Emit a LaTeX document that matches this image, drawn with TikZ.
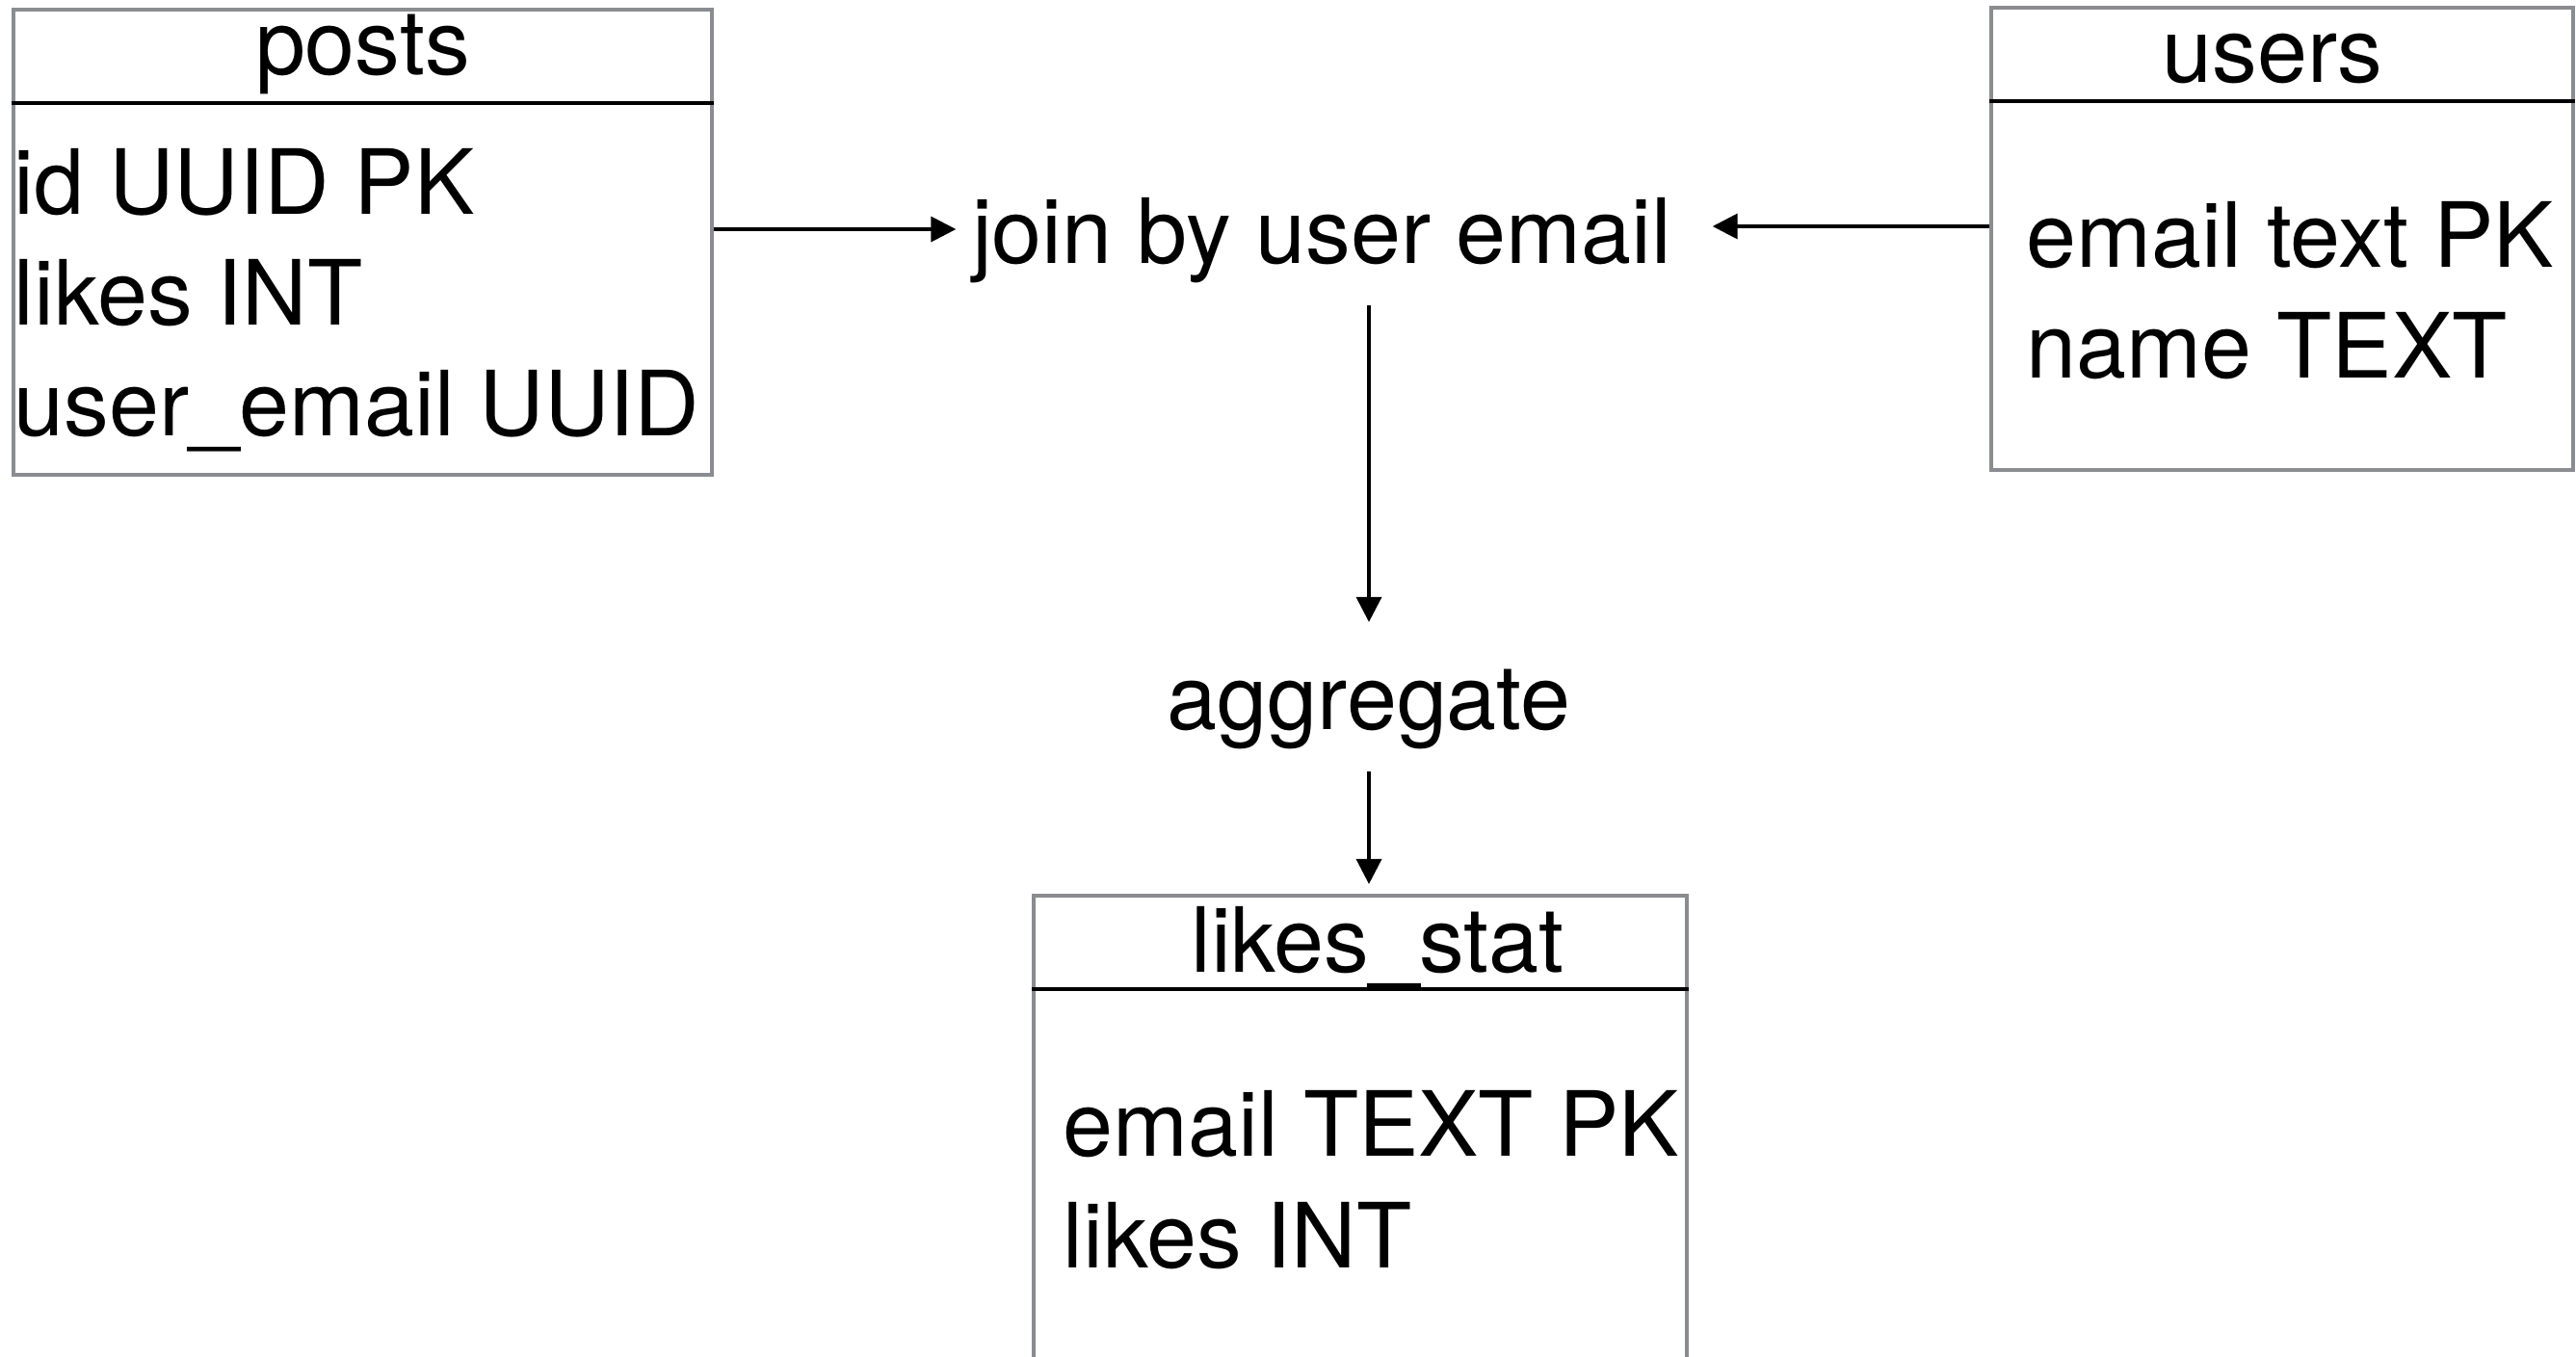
\documentclass[tikz,border=0pt]{standalone}
\usepackage{fontspec}
\setmainfont{TeX Gyre Heros}
\usepackage{xcolor}
\usepackage{tikz}
\usetikzlibrary{arrows.meta,positioning,calc}

\definecolor{tblgray}{HTML}{8A8C90}

\begin{document}
\begin{tikzpicture}[
      tbl/.style={draw=tblgray, line width=1.2pt, rectangle, inner sep=0pt},
      hdr/.style={draw=black, line width=1.1pt},
      txt/.style={font=\fontsize{26.6}{32}\selectfont, inner sep=0pt},
      ttl/.style={txt, anchor=base},
      fld/.style={txt, anchor=base west},
      flow/.style={->, line width=1pt},
      >={Triangle[length=2.6mm,width=2.6mm]}
    ]
    \useasboundingbox (0,0) rectangle (26.74,-14.08);

    % tables
    \node[tbl, minimum width=7.25cm, minimum height=4.83cm] (posts) at (3.765,-2.515) {};
    \node[ttl] (posts-title) at ([yshift=-0.70cm]posts.north) {posts};
    \draw[hdr] ([yshift=-0.99cm]posts.north west) -- ([yshift=-0.99cm]posts.north east);
    \node[fld] (posts-id) at (0.14,-2.22) {id UUID PK};
    \node[fld] (posts-likes) at (0.14,-3.37) {likes INT};
    \node[fld] (posts-email) at (0.14,-4.52) {user\_email UUID};

    \node[tbl, minimum width=6.04cm, minimum height=4.80cm] (users) at (23.69,-2.48) {};
    \node[ttl] (users-title) at ([xshift=-0.10cm,yshift=-0.80cm]users.north) {users};
    \draw[hdr] ([yshift=-0.99cm]users.north west) -- ([yshift=-0.99cm]users.north east);
    \node[fld] (users-email) at (21.03,-2.77) {email text PK};
    \node[fld] (users-name) at (21.03,-3.92) {name TEXT};

    \node[tbl, minimum width=6.78cm, minimum height=5.0cm] (likes) at (14.12,-11.80) {};
    \node[ttl] (likes-title) at ([xshift=0.18cm,yshift=-0.82cm]likes.north) {likes\_stat};
    \draw[hdr] ([yshift=-0.99cm]likes.north west) -- ([yshift=-0.99cm]likes.north east);
    \node[fld] (likes-email) at (11.03,-12.00) {email TEXT PK};
    \node[fld] (likes-likes) at (11.03,-13.16) {likes INT};

    % steps
    \node[ttl] (join) at (13.72,-2.73) {join by user email};
    \node[ttl] (aggregate) at (14.21,-7.57) {aggregate};

    \draw[flow, shorten >=0.16cm] ([yshift=3.5mm]posts.east |- join.base west) -- ([yshift=3.5mm]join.base west);
    \draw[flow, shorten >=0.42cm] ([yshift=3.8mm]users.west |- join.base east) -- ([yshift=3.8mm]join.base east);
    \draw[flow, shorten <=0.23cm, shorten >=0.48cm] (aggregate.north |- join.south) -- (aggregate.north);
    \draw[flow, shorten <=0.23cm, shorten >=0.1cm] (aggregate.south) -- (aggregate.south |- likes.north);
  \end{tikzpicture}
\end{document}
